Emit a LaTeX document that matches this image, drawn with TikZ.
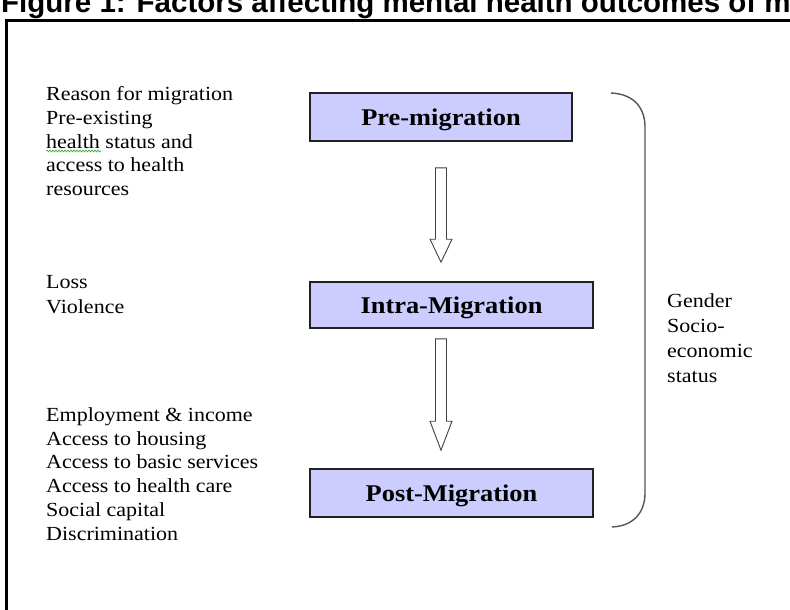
\documentclass[tikz,border=0pt]{standalone}
\usepackage{fontspec}
\setmainfont{Liberation Serif}[FakeStretch=1.1]
\newfontfamily\titlefont{Liberation Sans}
\usetikzlibrary{calc,positioning,decorations.pathmorphing}

\definecolor{stagefill}{HTML}{CCCCFF}
\definecolor{stageline}{HTML}{222222}
\definecolor{bracegray}{HTML}{555555}
\definecolor{spellgreen}{HTML}{33AA33}

\tikzset{
  stage/.style={draw=stageline,line width=1.6pt,fill=stagefill,inner sep=0pt,
    font=\fontsize{24}{28}\selectfont\bfseries,text height=17pt,text depth=0pt},
  factors/.style={anchor=base west,align=left,inner sep=0pt,
    font=\fontsize{20}{23.7}\selectfont},
  blockarrow/.style={draw=black!75,line width=0.9pt,fill=white,line join=miter},
}

% hollow block arrow, straight down from #2 to the tip #3, head length #1
\newcommand{\hollowarrow}[3][23pt]{%
  \draw[blockarrow] let \p1=(#2), \p2=(#3) in
    (\x1-5.5pt,\y1) -- (\x1+5.5pt,\y1) -- (\x1+5.5pt,\y2+#1)
    -- (\x1+11pt,\y2+#1) -- (\x1,\y2) -- (\x1-11pt,\y2+#1)
    -- (\x1-5.5pt,\y2+#1) -- cycle;}

\begin{document}
\begin{tikzpicture}[x=1pt,y=-1pt]
\useasboundingbox (0,0) rectangle (790,610);
%
% caption, cut by the page edge
  \node[anchor=base west,inner sep=0pt,
        font=\titlefont\fontsize{29.5}{32}\selectfont\bfseries] (title) at (1,13)
        {Figure 1: Factors affecting mental health outcomes of mi};
  \draw[line width=3pt] (6.5,20.5) rectangle (830,650);
%
% the three stages
  \node[stage,minimum width=262pt,minimum height=48pt] (pre) at (441,117) {Pre-migration};
  \node[stage,minimum width=283pt,minimum height=46pt] (intra) at (451.5,305) {Intra-Migration};
  \node[stage,minimum width=283pt,minimum height=48pt] (post) at (451.5,493) {Post-Migration};
%
  \coordinate (a1from) at ($(pre.south)+(0,-26pt)$);
  \coordinate (a1to) at ($(intra.north -| pre.south)+(0,19pt)$);
  \coordinate (a2from) at ($(intra.south -| pre.south)+(0,-10pt)$);
  \coordinate (a2to) at ($(post.north -| pre.south)+(0,18pt)$);
  \hollowarrow{a1from}{a1to}
  \hollowarrow[29pt]{a2from}{a2to}
%
% factors at each stage (placed by the baseline of their last line)
  \node[factors] (prefac) at (46,195.5)
    {Reason for migration\\Pre-existing\\health status and\\access to health\\resources};
  \draw[spellgreen,line width=0.6pt,decorate,
        decoration={snake,amplitude=1pt,segment length=3pt}] (46,151) -- (101,151);
  \node[factors,font=\fontsize{20}{25}\selectfont] (intrafac) at (46,313) {Loss\\Violence};
  \node[factors] (postfac) at (46,540)
    {Employment \& income\\Access to housing\\Access to basic services\\
     Access to health care\\Social capital\\Discrimination};
%
% factors across all stages
  \draw[bracegray,line width=1.4pt] (611,93) .. controls (634,94) and (645,108) .. (645,127)
    -- (645,493) .. controls (645,512) and (634,526) .. (612,527);
  \node[factors,font=\fontsize{20}{25}\selectfont] (cross) at (667,382)
    {Gender\\Socio-\\economic\\status};

\end{tikzpicture}
\end{document}
